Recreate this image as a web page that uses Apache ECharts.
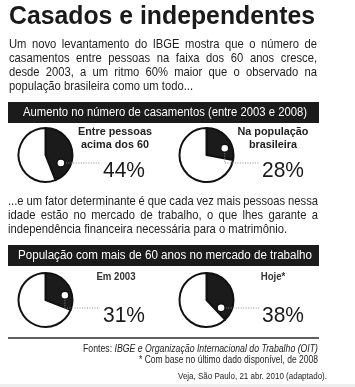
<!DOCTYPE html>
<html><head><meta charset="utf-8">
<script src="https://cdn.jsdelivr.net/npm/echarts@6/dist/echarts.min.js"></script>
<style>html,body{margin:0;padding:0;background:#fff}#c{width:355px;height:387px}</style>
</head><body><div id="c"></div>
<script>
// ---- data ----
const titleText = "Casados e independentes";
const introLines = [
  "Um novo levantamento do IBGE mostra que o número de",
  "casamentos entre pessoas na faixa dos 60 anos cresce,",
  "desde 2003, a um ritmo 60% maior que o observado na",
  "população brasileira como um todo..."
];
const middleLines = [
  "...e um fator determinante é que cada vez mais pessoas nessa",
  "idade estão no mercado de trabalho, o que lhes garante a",
  "independência financeira necessária para o matrimônio."
];
const groupTitles = [
  "Aumento no número de casamentos (entre 2003 e 2008)",
  "População com mais de 60 anos no mercado de trabalho"
];
const pieNames = [["Entre pessoas","acima dos 60"],["Na população","brasileira"],["Em 2003"],["Hoje*"]];
const pieValues = [44, 28, 31, 38];
const sourceText = ["Fontes: ", "IBGE e Organização Internacional do Trabalho (OIT)"];
const noteText = "* Com base no último dado disponível, de 2008";
const citeText = "Veja, São Paulo, 21 abr. 2010 (adaptado).";

// ---- layout ----
const FAM = "'Liberation Sans', Arial, sans-serif";
const pies = [
  {cx:45.5, cy:155, labelX:115, nameY:[132,145], pctX:103, pctY:171, dotA:0.74, dotR:0.64, bold:true},
  {cx:206.5, cy:155, labelX:273, nameY:[132,145], pctX:262, pctY:171, dotA:0.69, dotR:0.72, bold:true},
  {cx:45.5, cy:300, labelX:116, nameY:[277], pctX:103, pctY:316, dotA:0.68, dotR:0.74, bold:false},
  {cx:206.5, cy:300, labelX:273, nameY:[277], pctX:262, pctY:316, dotA:0.86, dotR:0.61, bold:false}
];
const R = 27;
const DARK = '#1b1b1b';

const ctx = document.createElement('canvas').getContext('2d');
function font(size, weight, style){ return `${style||'normal'} ${weight||'normal'} ${size}px ${FAM}`; }
function mw(text, size, weight, style){ ctx.font = font(size, weight, style); return ctx.measureText(text).width; }

const chart = echarts.init(document.getElementById('c'), null, {renderer:'canvas'});

const series = [];
const polar = [], angleAxis = [], radiusAxis = [];
pies.forEach((p, i) => {
  const v = pieValues[i];
  series.push({
    type:'pie', center:[p.cx, p.cy], radius:[0, R], startAngle:90, clockwise:true,
    silent:true, animation:false, z:1,
    label:{show:false}, labelLine:{show:false}, emphasis:{disabled:true},
    itemStyle:{borderColor:'#111', borderWidth:2},
    data:[{value:v, itemStyle:{color:DARK}}, {value:100 - v, itemStyle:{color:'#fff'}}]
  });
  polar.push({center:[p.cx, p.cy], radius:R});
  angleAxis.push({polarIndex:i, type:'value', min:0, max:100, startAngle:90, clockwise:true, show:false});
  radiusAxis.push({polarIndex:i, type:'value', min:0, max:1, show:false});
});
pies.forEach((p, i) => {
  series.push({
    type:'scatter', coordinateSystem:'polar', polarIndex:i, silent:true, animation:false, z:5,
    symbol:'circle', symbolSize:8,
    itemStyle:{color:'#ffffff', borderColor:'#111', borderWidth:1.5, opacity:1},
    emphasis:{disabled:true},
    data:[[p.dotR, pieValues[i] * p.dotA]]
  });
});

chart.setOption({animation:false, polar, angleAxis, radiusAxis, series});

// ---- graphic texts ----
const g = [];
function txt(x, y, text, size, opts){
  opts = opts || {};
  g.push({type:'text', x, y, z:10, silent:true, scaleX:opts.sx || 1, style:{text, font:font(size, opts.weight, opts.style),
    fill:opts.fill || '#1e1e1e', align:opts.align || 'left', verticalAlign:'middle'}});
}
function paragraph(lines, x0, x1, ys, size, sx){
  lines.forEach((line, li) => {
    const last = li === lines.length - 1;
    if (last) { txt(x0, ys[li], line, size, {sx}); return; }
    const words = line.split(' ');
    const total = words.reduce((s, wd) => s + mw(wd, size) * sx, 0);
    const gap = (x1 - x0 - total) / (words.length - 1);
    let x = x0;
    words.forEach(wd => { txt(x, ys[li], wd, size, {sx}); x += mw(wd, size) * sx + gap; });
  });
}

// title
const tSize = 26.5;
txt(9, 16.5, titleText, tSize, {weight:'bold', fill:'#1a1a1a', sx: 306 / mw(titleText, tSize, 'bold')});

// intro paragraph
const p1Size = 13;
paragraph(introLines, 9, 317, [44, 58, 72, 86], p1Size, 184 / mw(introLines[3], p1Size));

// header bars
const hSize = 12;
g.push({type:'rect', z:8, silent:true, shape:{x:8, y:102, width:311, height:21}, style:{fill:DARK}});
txt(23, 113, groupTitles[0], hSize, {fill:'#fff', sx: 284 / mw(groupTitles[0], hSize)});
g.push({type:'rect', z:8, silent:true, shape:{x:8, y:245, width:311, height:21}, style:{fill:DARK}});
txt(18, 256, groupTitles[1], hSize, {fill:'#fff', sx: 294 / mw(groupTitles[1], hSize)});

// middle paragraph
const p2Size = 13;
paragraph(middleLines, 8, 318, [201, 215, 229], p2Size, 279 / mw(middleLines[2], p2Size));

// pie names and percentages
const nameSize = 11.5;
const nameSx = 74 / mw(pieNames[0][0], nameSize, 'bold');
const pctSize = 21.5;
const pctSx = 42 / mw('44%', pctSize);
pies.forEach((p, i) => {
  pieNames[i].forEach((nm, k) => {
    if (p.bold) txt(p.labelX, p.nameY[k], nm, nameSize, {weight:'bold', align:'center', fill:'#222', sx:nameSx});
    else txt(p.labelX, p.nameY[k], nm, 10.5, {weight:'bold', align:'center', fill:'#333', sx:0.92});
  });
  txt(p.pctX, p.pctY, pieValues[i] + '%', pctSize, {fill:'#1a1a1a', sx: pctSx});
});

// separator
g.push({type:'line', z:8, silent:true, shape:{x1:8, y1:338, x2:319, y2:338}, style:{stroke:'#2a2a2a', lineWidth:1.5}});

// footer
const fSize = 10;
const fSx = 235 / (mw(sourceText[0], fSize) + mw(sourceText[1], fSize, 'normal', 'italic'));
g.push({type:'text', x:318, y:349, z:10, silent:true, scaleX:fSx, style:{
  text:'{n|' + sourceText[0] + '}{i|' + sourceText[1] + '}', align:'right', verticalAlign:'middle',
  rich:{n:{fontFamily:FAM, fontSize:fSize, fill:'#222', fontStyle:'normal'}, i:{fontFamily:FAM, fontSize:fSize, fill:'#222', fontStyle:'italic'}}}});
txt(318, 360, noteText, fSize, {align:'right', fill:'#222', sx: 179 / mw(noteText, fSize)});
txt(327, 376, citeText, 9.5, {align:'right', fill:'#222', sx: 149 / mw(citeText, 9.5)});

g.push({type:'rect', z:0, silent:true, shape:{x:0, y:384, width:355, height:3}, style:{fill:'#eeeeee'}});

// leader lines from dots
pies.forEach((p, i) => {
  const pt = chart.convertToPixel({seriesIndex: pies.length + i}, [p.dotR, pieValues[i] * p.dotA]);
  const lineY = p.cy + 8;
  const y2 = Math.max(pt[1], lineY);
  const pts = [[pt[0], pt[1]], [pt[0], y2], [p.pctX - 3, y2]];
  g.push({type:'polyline', z:4, silent:true, shape:{points:pts}, style:{stroke:'#8a8a8a', lineWidth:1, lineDash:[1, 1.5], fill:null}});
});

chart.setOption({graphic: g});
</script>
</body></html>
